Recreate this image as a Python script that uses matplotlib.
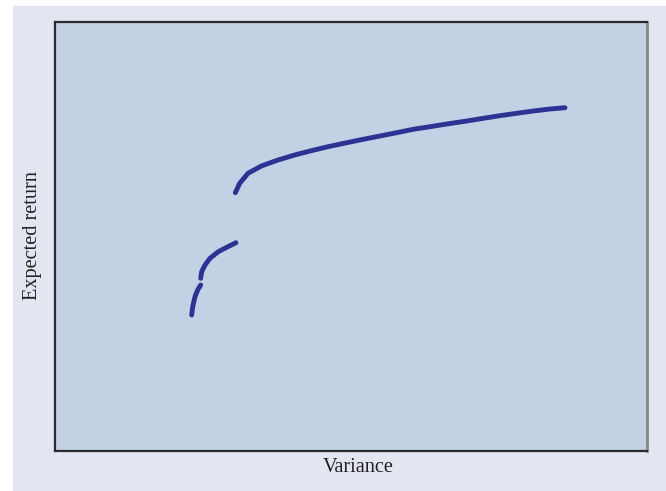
import numpy as np
import matplotlib.pyplot as plt
from matplotlib.patches import Rectangle

# =========================================================
# DATA (arbitrary units 0-100)
# =========================================================

seg1_x = [23.09, 23.26, 23.65, 24.10, 24.61]
seg1_y = [31.70, 33.64, 35.97, 37.53, 38.69]

seg2_x = [24.61, 24.78, 25.34, 26.18, 27.58, 29.00, 30.57]
seg2_y = [40.26, 41.79, 43.36, 44.92, 46.46, 47.48, 48.55]

seg3_x = [30.46, 31.20, 32.60, 34.85, 37.67, 40.49, 43.29, 46.11,
          49.27, 52.08, 54.90, 57.72, 60.52, 63.34, 66.17, 69.54,
          72.35, 75.17, 77.99, 80.79, 83.61, 86.15]
seg3_y = [60.21, 62.40, 64.73, 66.43, 67.83, 69.00, 70.00, 70.93,
          71.86, 72.66, 73.43, 74.20, 74.99, 75.59, 76.22, 76.92,
          77.55, 78.16, 78.72, 79.25, 79.72, 80.02]

# =========================================================
# FIGURE
# =========================================================

plt.rcParams['font.family'] = ['Liberation Serif', 'DejaVu Serif']

fig = plt.figure(figsize=(6.66, 4.91), dpi=100, facecolor='white')
bg = Rectangle((13 / 666, 0), 1, 1 - 6 / 491, transform=fig.transFigure,
               facecolor='#e3e5f0', edgecolor='none', zorder=-10)
fig.add_artist(bg)

ax = fig.add_axes([55 / 666, 40 / 491, 592 / 666, 429 / 491])
ax.set_zorder(1)
ax.set_facecolor('#c2d2e4')

line_color = '#2b3393'
for xs, ys in [(seg1_x, seg1_y), (seg2_x, seg2_y), (seg3_x, seg3_y)]:
    ax.plot(xs, ys, color=line_color, linewidth=3.5,
            solid_capstyle='round', solid_joinstyle='round')

ax.set_xlim(0, 100)
ax.set_ylim(0, 100)
ax.set_xticks([])
ax.set_yticks([])

for side in ['left', 'bottom', 'top']:
    ax.spines[side].set_color('#2a2a2e')
    ax.spines[side].set_linewidth(1.6)
ax.spines['right'].set_color('#88888c')
ax.spines['right'].set_linewidth(2.0)

fig.text(358 / 666, 1 - 467 / 491, 'Variance', ha='center', va='center',
         fontsize=14.6, color='#222222', zorder=2)
fig.text(33 / 666, 1 - 236 / 491, 'Expected return', ha='center', va='center',
         rotation=90, fontsize=14.6, color='#222222', zorder=2)

fig.savefig('out.png', dpi=100, facecolor=fig.get_facecolor())
